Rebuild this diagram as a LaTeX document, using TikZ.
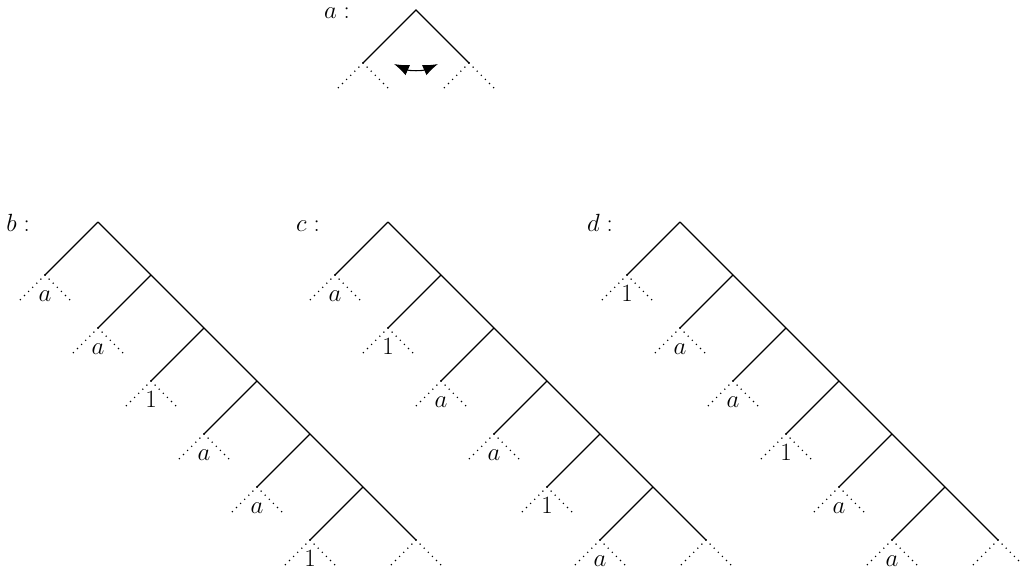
\documentclass[tikz,border=0pt]{standalone}
\usetikzlibrary{arrows.meta,calc}
\begin{document}
\begin{tikzpicture}[x=1pt,y=-1pt,
  edge/.style={line width=1.1pt},
  dotline/.style={line width=1.6pt, line cap=round, dash pattern=on 0pt off 5.8pt},
  lab/.style={font=\fontsize{25}{29}\selectfont, inner sep=0pt, anchor=base},
  swaptip/.style={{Latex[length=15pt,width=11pt]}-{Latex[length=15pt,width=11pt]}}]
\useasboundingbox (0,0) rectangle (1020,574);
% tree a
\coordinate (aR) at (416,10);
\coordinate (aL) at (363,63);
\coordinate (aRR) at (469,63);
\draw[edge] (aL) -- (aR) -- (aRR);
\foreach \p in {aL,aRR}{
  \draw[dotline] (\p) -- ++(-27,27);
  \draw[dotline] (\p) -- ++(27,27);
}
\node[lab] (alab) at (337,18) {$a:$};
\coordinate (aA1) at (394,64);
\coordinate (aA2) at (438,64);
\draw[line width=1.1pt,swaptip] (aA1) to[bend right=24] (aA2);
% trees b, c, d
\foreach \t/\x/\labs in {b/98/{a,a,1,a,a,1}, c/388/{a,1,a,a,1,a}, d/680/{1,a,a,1,a,a}}{
  \coordinate (\t0) at (\x,222);
  \foreach \k in {1,...,6}{
    \coordinate (\t\k) at (\x+53*\k,222+53*\k);
  }
  \draw[edge] (\t0) -- (\t6);
  \foreach \l [count=\k from 0] in \labs {
    \coordinate (\t L\k) at (\x+53*\k-53,222+53*\k+53);
    \draw[edge] (\t\k) -- (\t L\k);
    \draw[dotline] (\t L\k) -- ++(-26,26);
    \draw[dotline] (\t L\k) -- ++(26,26);
    \node[lab] (\t lab\k) at ($(\t L\k)+(0,26.5)$) {$\l$};
  }
  \draw[dotline] (\t6) -- ++(-26,26);
  \draw[dotline] (\t6) -- ++(26,26);
  \node[lab] (\t name) at (\x-80,231) {$\t:$};
}
\end{tikzpicture}
\end{document}
